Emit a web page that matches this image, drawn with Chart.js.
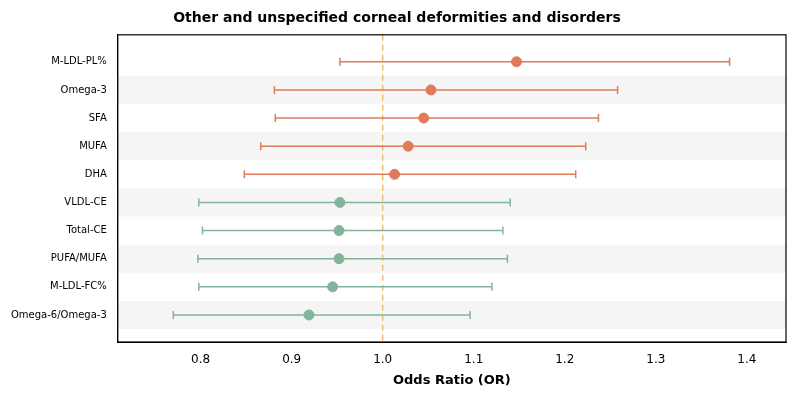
<!DOCTYPE html>
<html><head><script src="https://cdn.jsdelivr.net/npm/chart.js@4"></script>
<style>body{margin:0}#w{width:800px;height:400px}</style></head>
<body><div id="w"><canvas id="c"></canvas></div>
<script>
const labels=["M-LDL-PL%","Omega-3","SFA","MUFA","DHA","VLDL-CE","Total-CE","PUFA/MUFA","M-LDL-FC%","Omega-6/Omega-3"];
const orVals=[1.147,1.053,1.045,1.028,1.013,0.953,0.952,0.952,0.945,0.919];
const lower=[0.953,0.881,0.882,0.866,0.848,0.798,0.802,0.797,0.798,0.770];
const upper=[1.381,1.258,1.237,1.223,1.212,1.140,1.132,1.137,1.120,1.096];
const colors=orVals.map(v=>v>1?"#e07b5a":"#84b39c");
const plug={id:"p",beforeDatasetsDraw(ch){const {ctx,chartArea:a,scales:{x,y}}=ch;ctx.save();
labels.forEach((l,i)=>{if(i%2==1){const t=y.getPixelForValue(i-0.5),b=y.getPixelForValue(i+0.5);ctx.fillStyle="#f5f5f5";ctx.fillRect(a.left,t,a.right-a.left,b-t);}});
const x1=x.getPixelForValue(1);ctx.strokeStyle="#f0c070";ctx.lineWidth=1.5;ctx.setLineDash([6,4]);ctx.beginPath();ctx.moveTo(x1,a.top);ctx.lineTo(x1,a.bottom);ctx.stroke();ctx.setLineDash([]);
labels.forEach((l,i)=>{const py=y.getPixelForValue(i),l0=x.getPixelForValue(lower[i]),h0=x.getPixelForValue(upper[i]);ctx.strokeStyle=colors[i];ctx.lineWidth=1.5;ctx.beginPath();ctx.moveTo(l0,py);ctx.lineTo(h0,py);ctx.moveTo(l0,py-4);ctx.lineTo(l0,py+4);ctx.moveTo(h0,py-4);ctx.lineTo(h0,py+4);ctx.stroke();});
ctx.restore();},
afterDraw(ch){const {ctx,chartArea:a}=ch;ctx.save();ctx.strokeStyle="#000";ctx.lineWidth=1.2;ctx.strokeRect(a.left,a.top,a.right-a.left,a.bottom-a.top);ctx.restore();}};
new Chart(document.getElementById("c"),{type:"scatter",data:{datasets:[{data:orVals.map((v,i)=>({x:v,y:i})),pointBackgroundColor:colors,pointBorderColor:colors,pointRadius:5}]},
options:{responsive:true,maintainAspectRatio:false,animation:false,layout:{padding:{right:14,top:2,left:8,bottom:8}},
plugins:{legend:{display:false},tooltip:{enabled:false},title:{display:true,text:"Other and unspecified corneal deformities and disorders",color:"#000",font:{family:"DejaVu Sans",size:14,weight:"bold"},padding:{top:8,bottom:8}}},
scales:{x:{min:0.709,max:1.443,grid:{display:false},border:{color:"#000"},ticks:{color:"#000",font:{family:"DejaVu Sans",size:12},callback:v=>v.toFixed(1)},afterBuildTicks:s=>{s.ticks=[0.8,0.9,1.0,1.1,1.2,1.3,1.4].map(v=>({value:v}));},title:{display:true,text:"Odds Ratio (OR)",color:"#000",font:{family:"DejaVu Sans",size:13,weight:"bold"},padding:{top:2}}},
y:{reverse:true,min:-0.96,max:9.96,grid:{display:false},border:{color:"#000"},afterBuildTicks:s=>{s.ticks=labels.map((l,i)=>({value:i}));},ticks:{color:"#000",font:{family:"DejaVu Sans",size:10},callback:(v)=>labels[v]}}}},plugins:[plug]});
</script></body></html>
